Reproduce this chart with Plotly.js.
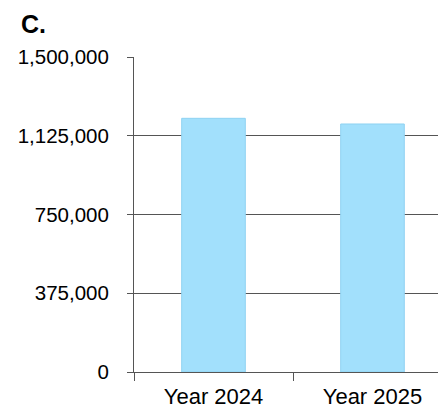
<!DOCTYPE html>
<html>
<head>
<meta charset="utf-8">
<script src="https://cdn.plot.ly/plotly-3.0.1.min.js"></script>
<style>
  html, body { margin: 0; padding: 0; background: #ffffff; }
  #chart { width: 438px; height: 409px; }
</style>
</head>
<body>
<div id="chart"></div>
<script>
// Categories and values
const categories = ["Year 2024", "Year 2025"];
const values = [1208000, 1181000];
const yTickVals = [0, 375000, 750000, 1125000, 1500000];
const yTickText = ["0", "375,000", "750,000", "1,125,000", "1,500,000"];

const trace = {
  type: "bar",
  x: categories,
  y: values,
  width: 0.4,
  marker: {
    color: "#a2e0fc",
    line: { color: "#8fd2f2", width: 1 }
  },
  hoverinfo: "skip"
};

const layout = {
  width: 438,
  height: 409,
  margin: { l: 134, r: 0, t: 57, b: 37, pad: 0 },
  paper_bgcolor: "#ffffff",
  plot_bgcolor: "#ffffff",
  font: { family: "Liberation Sans, Arial, sans-serif", size: 20, color: "#000000" },
  showlegend: false,
  title: {
    text: "<b>C.</b>",
    font: { size: 25, color: "#000000" },
    x: 21 / 438,
    xanchor: "left",
    y: 1 - 24 / 409,
    yanchor: "middle"
  },
  xaxis: {
    type: "category",
    range: [-0.5, 1.412],
    tickson: "boundaries",
    ticks: "outside",
    ticklen: 8,
    tickwidth: 1,
    tickcolor: "#555555",
    ticklabelstandoff: 5,
    showline: true,
    linecolor: "#555555",
    linewidth: 1,
    showgrid: false,
    zeroline: false,
    fixedrange: true,
    tickfont: { size: 22 }
  },
  yaxis: {
    range: [0, 1500000],
    tickvals: yTickVals,
    ticktext: yTickText,
    ticks: "outside",
    ticklen: 6,
    tickwidth: 1,
    tickcolor: "#555555",
    ticklabelstandoff: 14,
    showline: true,
    linecolor: "#555555",
    linewidth: 1,
    showgrid: true,
    gridcolor: "#555555",
    gridwidth: 1,
    zeroline: false,
    fixedrange: true,
    tickfont: { size: 20.5 }
  },
  bargap: 0.6
};

Plotly.newPlot("chart", [trace], layout, { displayModeBar: false, staticPlot: true });
</script>
</body>
</html>
